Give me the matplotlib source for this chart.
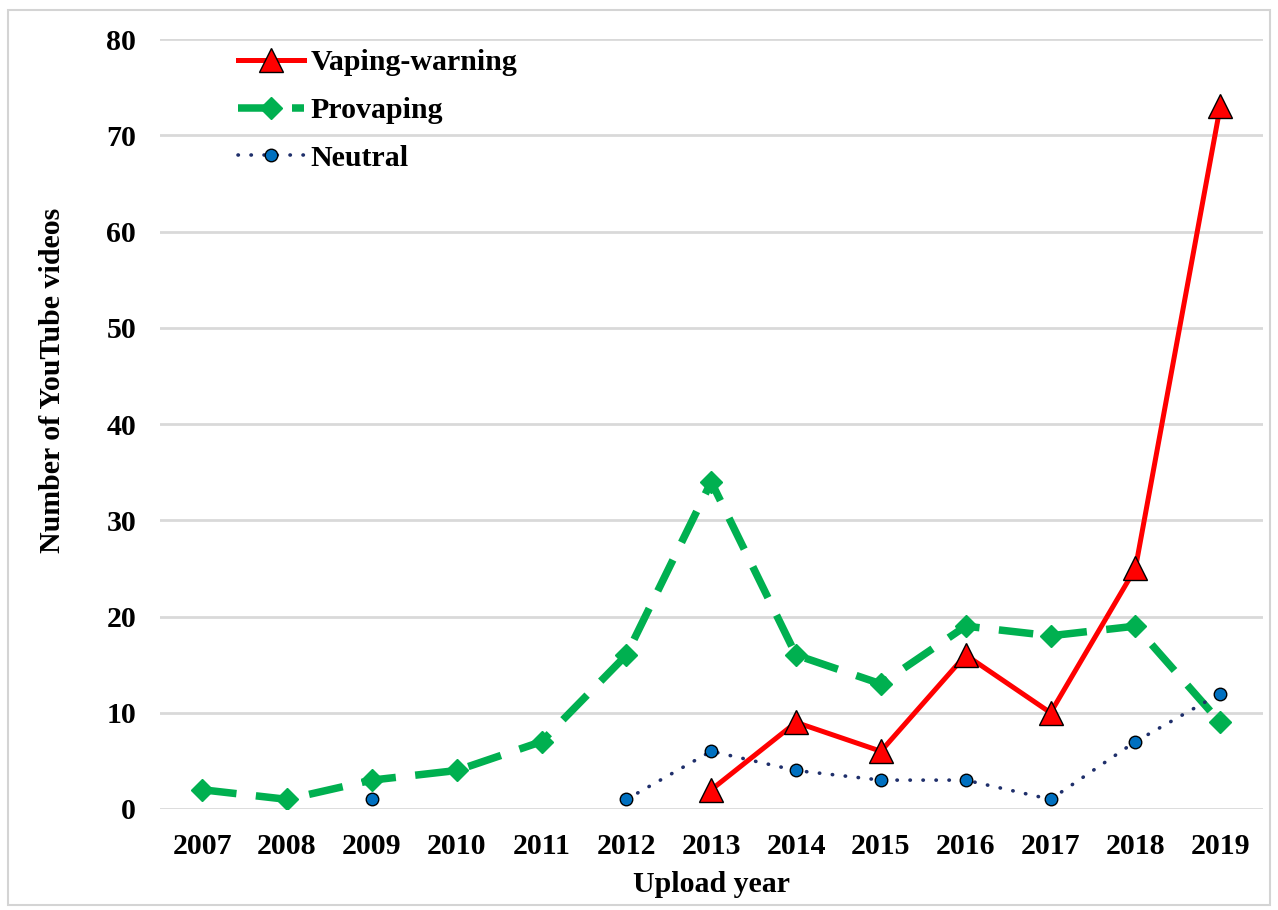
import numpy as np
import matplotlib.pyplot as plt
from matplotlib.patches import Rectangle

plt.rcParams['font.family'] = ['Liberation Serif', 'DejaVu Serif']
plt.rcParams['font.weight'] = 'bold'

years = ['2007', '2008', '2009', '2010', '2011', '2012', '2013',
         '2014', '2015', '2016', '2017', '2018', '2019']
nan = np.nan
vaping_warning = [nan, nan, nan, nan, nan, nan, 2, 9, 6, 16, 10, 25, 73]
provaping = [2, 1, 3, 4, 7, 16, 34, 16, 13, 19, 18, 19, 9]
neutral = [nan, nan, 1, nan, nan, 1, 6, 4, 3, 3, 1, 7, 12]

FS = 21.5

fig = plt.figure(figsize=(12.78, 9.10), dpi=100)
ax = fig.add_axes([0.125, 0.111, 0.863, 0.846])

# outer frame of the pasted figure
fig.patches.append(Rectangle((0.006, 0.005), 0.988, 0.984, transform=fig.transFigure,
                             fill=False, edgecolor='#d4d4d4', lw=1.5))

x = np.arange(len(years))
ax.plot(x, vaping_warning, color='#ff0000', lw=3.6, marker='^', ms=17,
        mfc='#ff0000', mec='black', mew=1, label='Vaping-warning', zorder=4)
ax.plot(x, provaping, color='#00b050', lw=5.4, ls=(0, (4.6, 2.6)),
        marker='D', ms=11, mfc='#00b050', mec='#00b050', label='Provaping', zorder=3)
ax.plot(x, neutral, color='#1f2f6b', lw=2.6, ls=(0, (0.1, 3.5)),
        dash_capstyle='round', marker='o', ms=9, mfc='#0070c0', mec='black',
        mew=1, label='Neutral', zorder=5)

ax.set_xlim(-0.5, len(years) - 0.5)
ax.set_ylim(0, 80)
ax.set_yticks(range(0, 81, 10))
ax.set_xticks(x)
ax.set_xticklabels(years)
ax.tick_params(length=0, labelsize=FS)
ax.tick_params(axis='y', pad=17)
ax.tick_params(axis='x', pad=17)
ax.grid(axis='y', color='#d9d9d9', lw=2)
ax.set_axisbelow(True)
for s in ax.spines.values():
    s.set_visible(False)

ax.set_xlabel('Upload year', fontsize=FS, fontweight='bold', labelpad=8)
ax.set_ylabel('Number of YouTube videos', fontsize=FS, fontweight='bold')
ax.yaxis.set_label_coords(-0.085, 0.557)

leg = ax.legend(loc='upper left', bbox_to_anchor=(0.047, 1.022), frameon=False,
                fontsize=FS, handlelength=2.2, labelspacing=0.7, handletextpad=0.2)

fig.savefig('out.png', dpi=100)
